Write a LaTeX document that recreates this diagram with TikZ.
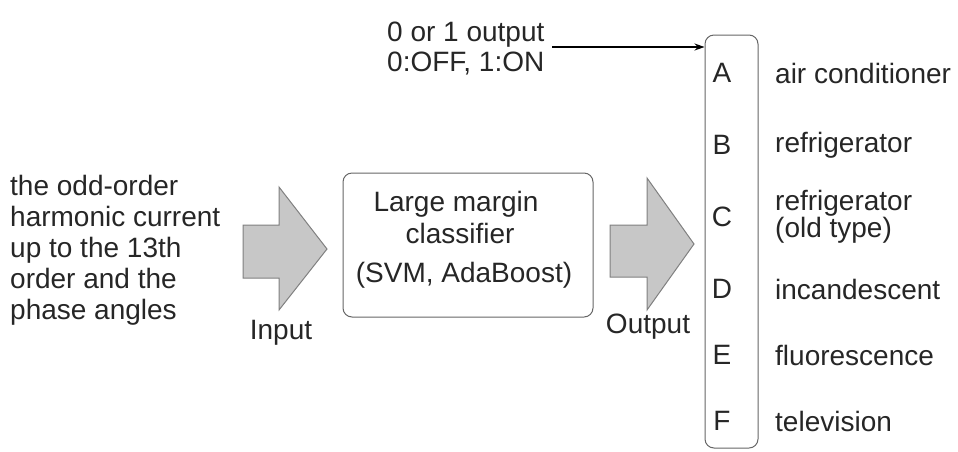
\documentclass[tikz,border=0pt]{standalone}
\usepackage{fontspec}
\setmainfont{Liberation Sans}
\usetikzlibrary{arrows.meta}
\begin{document}
\begin{tikzpicture}[x=1pt,y=-1pt,
  txt/.style={font=\fontsize{28}{31}\selectfont, inner sep=0pt, text=black!85},
  blockarrow/.style={fill=black!22, draw=black!50, line width=1pt},
  roundbox/.style={draw=black!60, line width=1pt, rounded corners=9pt}]
\useasboundingbox (0,0) rectangle (958,451);
% left input text
\node[txt, anchor=north west, align=left] (intext) at (10,175)
  {the odd-order\\harmonic current\\up to the 13th\\order and the\\phase angles};
% input arrow
\draw[blockarrow] (243,225) -- (279,225) -- (279,187) -- (327,249) -- (279,310) -- (279,278) -- (243,278) -- cycle;
\node[txt] (inlbl) at (281,333) {Input};
% classifier box
\node[roundbox, minimum width=250pt, minimum height=144pt, inner sep=0pt] (cls) at (468,245) {};
\node[txt] (cl1) at (456,204) {Large margin};
\node[txt] (cl2) at (460,233) {classifier};
\node[txt] (cl3) at (464,275) {(SVM, AdaBoost)};
% output arrow
\draw[blockarrow] (610,225) -- (647,225) -- (647,178) -- (694,244) -- (647,310) -- (647,277) -- (610,277) -- cycle;
\node[txt] (outlbl) at (648,327) {Output};
% tall box
\node[roundbox, minimum width=53pt, minimum height=413pt, inner sep=0pt] (tall) at (731.5,241.5) {};
% top text and arrow
\node[txt, anchor=north west, align=left] (toptext) at (387,22) {0 or 1 output\\[-1pt]0:OFF, 1:ON};
\coordinate (arrstart) at (552,47);
\draw[-{Stealth[length=10pt,width=7pt]}, line width=1.2pt] (arrstart) -- (tall.north west |- arrstart);
% letters
\foreach \l/\y in {A/73,B/145,C/217,D/289,E/355,F/421}{
  \node[txt] (let\l) at (722,\y) {\l};
}
\node[txt, anchor=west] (labA) at (775,73) {air conditioner};
\node[txt, anchor=west] (labB) at (775,145) {refrigerator};
\node[txt, anchor=west, align=left] (labC) at (775,217) {refrigerator\\[-4pt](old type)};
\node[txt, anchor=west] (labD) at (775,289) {incandescent};
\node[txt, anchor=west] (labE) at (775,355) {fluorescence};
\node[txt, anchor=west] (labF) at (775,421) {television};
\end{tikzpicture}
\end{document}
